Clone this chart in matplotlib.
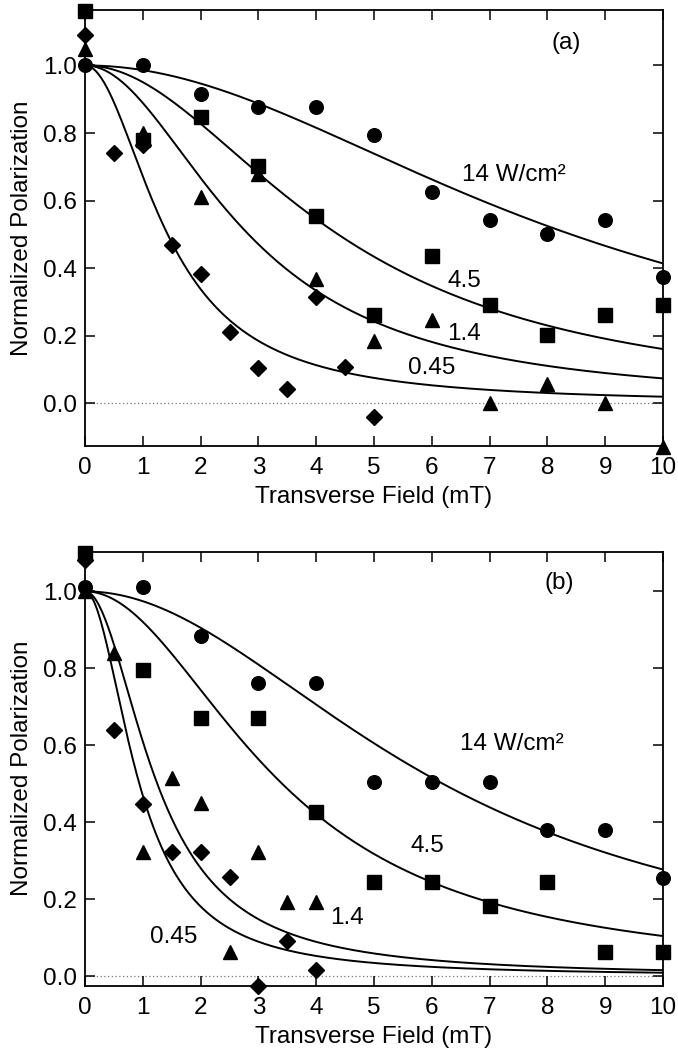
import numpy as np
import matplotlib
matplotlib.use("Agg")
import matplotlib.pyplot as plt

plt.rcParams['font.family'] = ['Liberation Sans', 'DejaVu Sans']

# ---------------- data: panel (a) ----------------
a_circle_x = [0, 1, 2, 3, 4, 5, 6, 7, 8, 9, 10]
a_circle_y = [1.00, 1.00, 0.916, 0.876, 0.876, 0.794, 0.626, 0.544, 0.501, 0.544, 0.375]
a_square_x = [0, 1, 2, 3, 4, 5, 6, 7, 8, 9, 10]
a_square_y = [1.16, 0.778, 0.846, 0.703, 0.554, 0.261, 0.436, 0.291, 0.202, 0.261, 0.291]
a_tri_x = [0, 1, 2, 3, 4, 5, 6, 7, 8, 9, 10]
a_tri_y = [1.05, 0.80, 0.611, 0.68, 0.367, 0.185, 0.246, 0.0, 0.059, 0.0, -0.128]
a_dia_x = [0, 0.5, 1, 1.5, 2, 2.5, 3, 3.5, 4, 4.5, 5]
a_dia_y = [1.09, 0.74, 0.765, 0.468, 0.382, 0.212, 0.104, 0.042, 0.315, 0.108, -0.041]
# Lorentzian fit half-widths (mT) for 14, 4.5, 1.4, 0.45 W/cm^2
a_fit_width = [8.41, 4.38, 2.83, 1.43]

# ---------------- data: panel (b) ----------------
b_circle_x = [0, 1, 2, 3, 4, 5, 6, 7, 8, 9, 10]
b_circle_y = [1.012, 1.012, 0.884, 0.761, 0.761, 0.505, 0.505, 0.505, 0.380, 0.380, 0.254]
b_square_x = [0, 1, 2, 3, 4, 5, 6, 7, 8, 9, 10]
b_square_y = [1.10, 0.795, 0.671, 0.671, 0.427, 0.245, 0.245, 0.183, 0.245, 0.062, 0.062]
b_tri_x = [0, 0.5, 1, 1.5, 2, 2.5, 3, 3.5, 4]
b_tri_y = [1.0, 0.839, 0.323, 0.515, 0.45, 0.063, 0.323, 0.192, 0.192]
b_dia_x = [0, 0.5, 1, 1.5, 2, 2.5, 3, 3.5, 4]
b_dia_y = [1.081, 0.641, 0.447, 0.323, 0.323, 0.258, -0.025, 0.091, 0.016]
b_fit_width = [6.19, 3.41, 1.25, 0.94]

x_ticks = [0, 1, 2, 3, 4, 5, 6, 7, 8, 9, 10]
y_ticks = [0.0, 0.2, 0.4, 0.6, 0.8, 1.0]

a_labels = [("(a)", 8.33, 1.065), ("14 W/cm²", 7.42, 0.676), ("4.5", 6.56, 0.362),
            ("1.4", 6.56, 0.207), ("0.45", 5.99, 0.104)]
b_labels = [("(b)", 8.2, 1.021), ("14 W/cm²", 7.39, 0.603), ("4.5", 5.92, 0.338),
            ("1.4", 4.53, 0.150), ("0.45", 1.54, 0.102)]

FS = 17.5

fig = plt.figure(figsize=(6.78, 10.53), dpi=100)
ax_a = fig.add_axes([0.1254, 0.5767, 0.8525, 0.4135])
ax_b = fig.add_axes([0.1254, 0.0639, 0.8525, 0.4121])


def draw(ax, cx, cy, sx, sy, tx, ty, dx, dy, widths, ylim, labels):
    xx = np.linspace(0, 10, 400)
    for w in widths:
        ax.plot(xx, 1.0 / (1.0 + (xx / w) ** 2), color='black', lw=1.4, zorder=3)
    ax.axhline(0, color='#777777', lw=0.9, ls=(0, (1, 2)), zorder=1)
    kw = dict(ls='none', color='black', clip_on=False, zorder=6)
    ax.plot(cx, cy, marker='o', ms=9.8, **kw)
    ax.plot(sx, sy, marker='s', ms=10, **kw)
    ax.plot(tx, ty, marker='^', ms=9.8, **kw)
    ax.plot(dx, dy, marker='D', ms=8.3, **kw)
    ax.set_xlim(0, 10)
    ax.set_ylim(*ylim)
    ax.set_xticks(x_ticks)
    ax.set_xticklabels([str(v) for v in x_ticks])
    ax.set_yticks(y_ticks)
    ax.set_yticklabels([f"{v:.1f}" for v in y_ticks])
    ax.tick_params(direction='in', length=7, width=1.1, top=True, right=True,
                   labelsize=FS, colors='black')
    ax.tick_params(axis='x', pad=8)
    ax.tick_params(axis='y', pad=6)
    for s in ax.spines.values():
        s.set_linewidth(1.3)
    ax.set_xlabel("Transverse Field (mT)", fontsize=FS, labelpad=5)
    ax.set_ylabel("Normalized Polarization", fontsize=FS, labelpad=7)
    for t, x, y in labels:
        ax.text(x, y, t, fontsize=FS, ha='center', va='center', zorder=7)


draw(ax_a, a_circle_x, a_circle_y, a_square_x, a_square_y, a_tri_x, a_tri_y,
     a_dia_x, a_dia_y, a_fit_width, (-0.125, 1.163), a_labels)
draw(ax_b, b_circle_x, b_circle_y, b_square_x, b_square_y, b_tri_x, b_tri_y,
     b_dia_x, b_dia_y, b_fit_width, (-0.025, 1.103), b_labels)

fig.savefig("out.png", dpi=100)
